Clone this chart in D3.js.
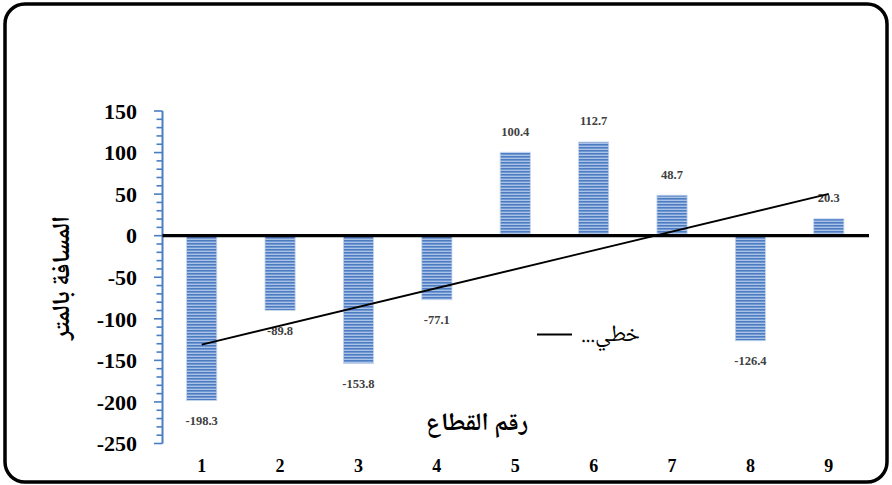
<!DOCTYPE html>
<html>
<head>
<meta charset="utf-8">
<script src="https://cdn.jsdelivr.net/npm/d3@7/dist/d3.min.js"></script>
<style>
  html, body { margin: 0; padding: 0; background: #fff; }
  svg { display: block; }
</style>
</head>
<body>
<svg id="chart" width="892" height="485"></svg>
<script>
// Sector numbers and measured distance (metres) per sector
const sectors = ["1", "2", "3", "4", "5", "6", "7", "8", "9"];
const distances = [-198.3, -89.8, -153.8, -77.1, 100.4, 112.7, 48.7, -126.4, 20.3];
const yTicks = [150, 100, 50, 0, -50, -100, -150, -200, -250];
const yAxisTitle = "المسافة بالمتر";
const xAxisTitle = "رقم القطاع";
const legendText = "خطي...";

const svg = d3.select("#chart");
const W = 892, H = 485;

const serif = "'Liberation Serif', 'Times New Roman', serif";
const arabic = "'Noto Naskh Arabic', 'Noto Sans Arabic', 'DejaVu Sans', sans-serif";

// Outer rounded frame
svg.append("rect")
  .attr("x", 5).attr("y", 4)
  .attr("width", W - 10).attr("height", H - 7)
  .attr("rx", 20).attr("ry", 20)
  .attr("fill", "#fff")
  .attr("stroke", "#000")
  .attr("stroke-width", 3.5);

// Striped fill for the bars
const defs = svg.append("defs");
const pat = defs.append("pattern")
  .attr("id", "stripes")
  .attr("patternUnits", "userSpaceOnUse")
  .attr("width", 6).attr("height", 3);
pat.append("rect").attr("width", 6).attr("height", 3).attr("fill", "#a9c2e6");
pat.append("rect").attr("y", 0).attr("width", 6).attr("height", 1.6).attr("fill", "#4d7cc2");

// Scales
const x = d3.scaleBand().domain(sectors).range([162.5, 868]).padding(0);
const y = d3.scaleLinear().domain([-250, 150]).range([443.5, 111]);

// Y axis (blue) with major and minor ticks
const axisG = svg.append("g");
axisG.append("line")
  .attr("x1", 162.5).attr("x2", 162.5)
  .attr("y1", y(150)).attr("y2", y(-250))
  .attr("stroke", "#4a7ec4").attr("stroke-width", 2);
const minor = d3.range(-250, 151, 10);
axisG.selectAll("line.minor")
  .data(minor)
  .join("line")
  .attr("class", "minor")
  .attr("x1", d => (d % 50 === 0) ? 154 : 156.5)
  .attr("x2", 162.5)
  .attr("y1", d => y(d)).attr("y2", d => y(d))
  .attr("stroke", "#4a7ec4").attr("stroke-width", 1.6);

axisG.selectAll("text.ytick")
  .data(yTicks)
  .join("text")
  .attr("class", "ytick")
  .attr("x", 137)
  .attr("y", d => y(d))
  .attr("dy", "0.35em")
  .attr("text-anchor", "end")
  .attr("font-family", serif)
  .attr("font-weight", "bold")
  .attr("font-size", 22)
  .attr("fill", "#000")
  .text(d => d);

// Bars
const barW = x.bandwidth() * 0.385;
svg.append("g").selectAll("rect")
  .data(distances)
  .join("rect")
  .attr("x", (d, i) => x(sectors[i]) + x.bandwidth() / 2 - barW / 2)
  .attr("y", d => Math.min(y(d), y(0)))
  .attr("width", barW)
  .attr("height", d => Math.abs(y(d) - y(0)))
  .attr("fill", "url(#stripes)")
  .attr("stroke", "#c5d5ee")
  .attr("stroke-width", 0.8);

// Zero line
svg.append("line")
  .attr("x1", 162.5).attr("x2", 869)
  .attr("y1", y(0)).attr("y2", y(0))
  .attr("stroke", "#000").attr("stroke-width", 3.2);

// Value labels
svg.append("g").selectAll("text")
  .data(distances)
  .join("text")
  .attr("x", (d, i) => x(sectors[i]) + x.bandwidth() / 2)
  .attr("y", d => d >= 0 ? y(d) - 21 : y(d) + 20)
  .attr("dy", "0.35em")
  .attr("text-anchor", "middle")
  .attr("font-family", serif)
  .attr("font-weight", "bold")
  .attr("font-size", 12.5)
  .attr("fill", "#404040")
  .text(d => d.toFixed(1));

// Linear trend line (least squares over sector index)
const n = distances.length;
const xs = d3.range(1, n + 1);
const mx = d3.mean(xs), my = d3.mean(distances);
const slope = d3.sum(xs, (v, i) => (v - mx) * (distances[i] - my)) / d3.sum(xs, v => (v - mx) ** 2);
const intercept = my - slope * mx;
const trend = [1, n].map(v => [x(sectors[v - 1]) + x.bandwidth() / 2, y(intercept + slope * v)]);
svg.append("path")
  .attr("d", d3.line()(trend))
  .attr("stroke", "#000").attr("stroke-width", 1.8).attr("fill", "none");

// X category labels
svg.append("g").selectAll("text")
  .data(sectors)
  .join("text")
  .attr("x", d => x(d) + x.bandwidth() / 2)
  .attr("y", 466)
  .attr("dy", "0.35em")
  .attr("text-anchor", "middle")
  .attr("font-family", serif)
  .attr("font-weight", "bold")
  .attr("font-size", 18)
  .attr("fill", "#000")
  .text(d => d);

// Axis titles
svg.append("text")
  .attr("transform", "translate(60,278) rotate(-90)")
  .attr("text-anchor", "middle")
  .attr("dy", "0.35em")
  .attr("font-family", arabic)
  .attr("font-weight", "bold")
  .attr("font-size", 25)
  .attr("fill", "#000")
  .text(yAxisTitle);

svg.append("text")
  .attr("x", 477).attr("y", 421)
  .attr("text-anchor", "middle")
  .attr("dy", "0.35em")
  .attr("font-family", arabic)
  .attr("font-weight", "bold")
  .attr("font-size", 25)
  .attr("fill", "#000")
  .text(xAxisTitle);

// Legend
svg.append("line")
  .attr("x1", 537).attr("x2", 572)
  .attr("y1", 334.5).attr("y2", 334.5)
  .attr("stroke", "#000").attr("stroke-width", 1.8);
svg.append("text")
  .attr("x", 640).attr("y", 341)
  .attr("text-anchor", "start")
  .attr("direction", "rtl")
  .attr("font-family", arabic)
  .attr("font-size", 23)
  .attr("fill", "#000")
  .text(legendText);
</script>
</body>
</html>
